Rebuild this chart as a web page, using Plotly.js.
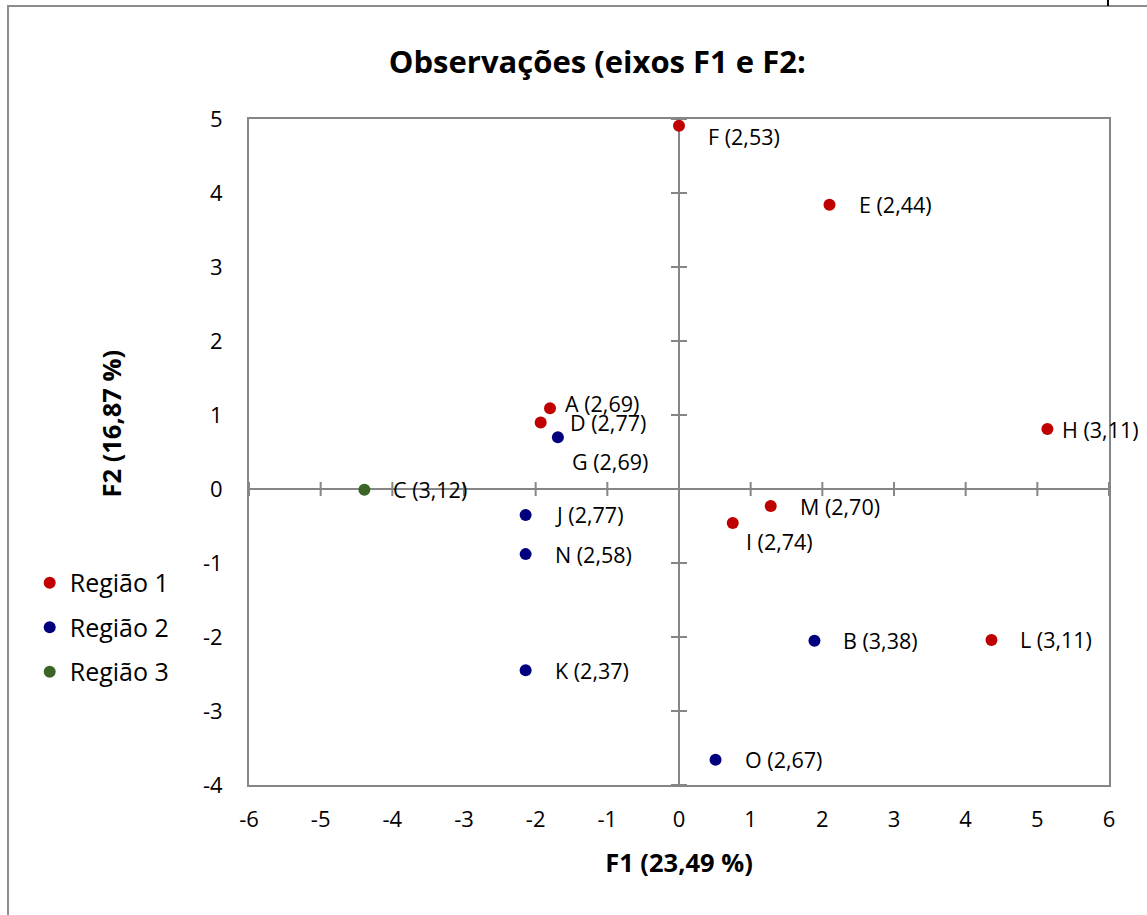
<!DOCTYPE html>
<html>
<head>
<meta charset="utf-8">
<script src="https://cdn.plot.ly/plotly-3.0.1.min.js"></script>
<style>html,body{margin:0;padding:0;background:#fff;}#chart{width:1147px;height:915px;}</style>
</head>
<body>
<div id="chart"></div>
<script>
// Observations on factor axes F1 / F2
const region1Names = ['F (2,53)', 'E (2,44)', 'A (2,69)', 'D (2,77)', 'H (3,11)', 'M (2,70)', 'I (2,74)', 'L (3,11)'];
const region1F1 = [0.00, 2.10, -1.80, -1.93, 5.14, 1.28, 0.75, 4.36];
const region1F2 = [4.91, 3.84, 1.09, 0.90, 0.81, -0.23, -0.46, -2.04];

const region2Names = ['G (2,69)', 'J (2,77)', 'N (2,58)', 'B (3,38)', 'K (2,37)', 'O (2,67)'];
const region2F1 = [-1.69, -2.14, -2.14, 1.89, -2.14, 0.51];
const region2F2 = [0.70, -0.35, -0.88, -2.05, -2.45, -3.66];

const region3Names = ['C (3,12)'];
const region3F1 = [-4.39];
const region3F2 = [-0.01];

const seriesNames = ['Região 1', 'Região 2', 'Região 3'];
const xTicks = [-6, -5, -4, -3, -2, -1, 0, 1, 2, 3, 4, 5, 6];
const yTicks = [-4, -3, -2, -1, 0, 1, 2, 3, 4, 5];

// styling (not data)
const colors = ['#C00000', '#00007F', '#3B6427'];
const FONT = 'Open Sans, sans-serif';
const labelShift = { // pixel nudges for the labels moved by hand in the original
  'F': [27, -11], 'A': [13, 5], 'G': [12, -24], 'H': [13, 0], 'I': [11, -18]
};

const groups = [
  [region1F1, region1F2, region1Names],
  [region2F1, region2F2, region2Names],
  [region3F1, region3F2, region3Names]
];

const traces = groups.map((g, i) => ({
  type: 'scatter', mode: 'markers',
  x: g[0], y: g[1], text: g[2], name: seriesNames[i],
  legendgroup: 'g' + i,
  marker: {color: colors[i], size: 12},
  hoverinfo: 'text+x+y', cliponaxis: false
}));

const annotations = [];
groups.forEach(g => {
  g[2].forEach((name, k) => {
    const key = name.charAt(0);
    const sh = labelShift[key] || [27, 0];
    annotations.push({
      x: g[0][k], y: g[1][k], xref: 'x', yref: 'y',
      text: name, showarrow: false, xanchor: 'left', yanchor: 'middle',
      xshift: sh[0], yshift: sh[1],
      font: {family: FONT, size: 21.5, color: '#000'}
    });
  });
});
// y-axis title placed like the original (slightly above centre)
annotations.push({
  xref: 'paper', yref: 'paper', x: -0.161, y: 0.542, text: '<b>F2 (16,87 %)</b>',
  textangle: -90, showarrow: false, xanchor: 'center', yanchor: 'middle',
  font: {family: FONT, size: 25.5, color: '#000'}
});

const shapes = [];
// tick marks crossing the zero lines
xTicks.forEach(t => shapes.push({
  type: 'line', xref: 'x', yref: 'y', ysizemode: 'pixel', yanchor: 0,
  x0: t, x1: t, y0: -7, y1: 7, line: {color: '#868686', width: 2}, layer: 'below'
}));
yTicks.forEach(t => shapes.push({
  type: 'line', xref: 'x', yref: 'y', xsizemode: 'pixel', xanchor: 0,
  x0: -8, x1: 8, y0: t, y1: t, line: {color: '#868686', width: 2}, layer: 'below'
}));
// outer chart-area border
shapes.push({
  type: 'rect', xref: 'paper', yref: 'paper',
  x0: -0.2802, x1: 1.06, y0: -0.21, y1: 1.1695,
  line: {color: '#8C8C8C', width: 2}, fillcolor: 'rgba(0,0,0,0)'
});
// small dark stroke at the top-right edge of the original picture
shapes.push({
  type: 'line', xref: 'paper', yref: 'paper',
  x0: 0.9988, x1: 0.9988, y0: 1.1697, y1: 1.18,
  line: {color: '#000', width: 2}
});

const layout = {
  width: 1147, height: 915,
  margin: {l: 249, r: 38, t: 119, b: 130},
  paper_bgcolor: '#fff', plot_bgcolor: '#fff',
  font: {family: FONT, size: 19, color: '#000'},
  title: {
    text: '<b>Observações (eixos F1 e F2:</b>',
    font: {family: FONT, size: 31, color: '#000'},
    x: 0.405, xref: 'paper', xanchor: 'center',
    y: 1 - 62 / 915, yref: 'container', yanchor: 'middle'
  },
  xaxis: {
    range: [-6, 6], tickvals: xTicks, ticktext: xTicks.map(String),
    showgrid: false, zeroline: true, zerolinecolor: '#868686', zerolinewidth: 2,
    showline: true, linecolor: '#868686', linewidth: 2, mirror: true,
    ticks: '', tickfont: {family: FONT, size: 22}, ticklabelstandoff: 14,
    title: {text: '<b>F1 (23,49 %)</b>', font: {family: FONT, size: 25.5}, standoff: 22},
    fixedrange: true
  },
  yaxis: {
    range: [-4, 5], tickvals: yTicks, ticktext: yTicks.map(String),
    showgrid: false, zeroline: true, zerolinecolor: '#868686', zerolinewidth: 2,
    showline: true, linecolor: '#868686', linewidth: 2, mirror: true,
    ticks: '', tickfont: {family: FONT, size: 22}, ticklabelstandoff: 20,
    fixedrange: true
  },
  showlegend: true,
  legend: {
    x: -0.255, y: 0.338, xanchor: 'left', yanchor: 'top',
    font: {family: FONT, size: 25, color: '#000'},
    tracegroupgap: 9, bgcolor: 'rgba(0,0,0,0)'
  },
  annotations: annotations,
  shapes: shapes
};

Plotly.newPlot('chart', traces, layout, {displayModeBar: false, staticPlot: false});
</script>
</body>
</html>
